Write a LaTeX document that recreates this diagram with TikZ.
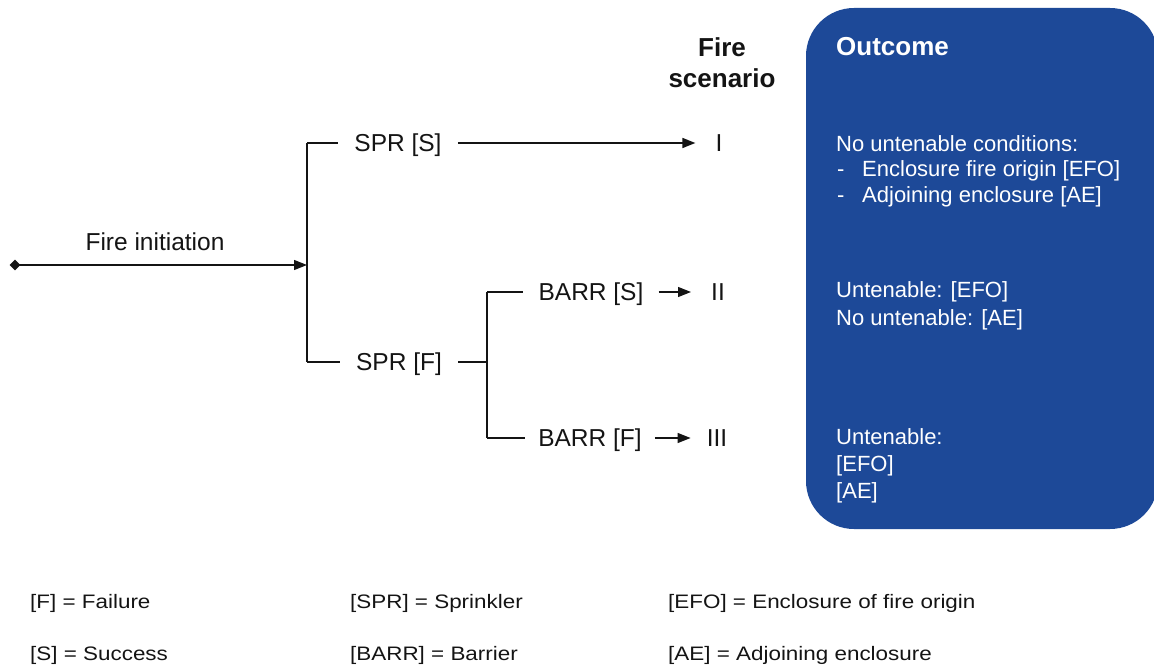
\documentclass[tikz,border=0pt]{standalone}
\usepackage{fontspec}
\setmainfont{Liberation Sans}
\newfontfamily\legendfont{Liberation Sans}[FakeStretch=1.15]
\usetikzlibrary{arrows.meta,shapes.geometric}
\definecolor{boxblue}{RGB}{29,73,152}
\definecolor{ink}{RGB}{20,20,20}
\begin{document}
\begin{tikzpicture}[x=1pt,y=-1pt,
  lbl/.style={inner ysep=0pt,inner xsep=16pt,text height=17.5pt,text depth=0pt,
    font=\fontsize{24.5}{28}\selectfont,text=ink},
  scen/.style={inner ysep=0pt,inner xsep=20pt,text height=17.5pt,text depth=0pt,
    font=\fontsize{24.5}{28}\selectfont,text=ink},
  wline/.style={draw=ink,line width=1.4pt},
  warrow/.style={draw=ink,line width=1.4pt,-{Triangle[length=13pt,width=10pt]}},
  outtxt/.style={anchor=west,inner sep=0pt,text height=15.8pt,text depth=0pt,
    font=\fontsize{22}{26}\selectfont,text=white},
  legtxt/.style={anchor=west,inner sep=0pt,text height=14pt,text depth=0pt,
    font=\legendfont\fontsize{19.5}{24}\selectfont,text=ink},
  headtxt/.style={inner sep=0pt,text height=18.6pt,text depth=0pt,
    font=\bfseries\fontsize{26}{30}\selectfont,text=ink}
]
\useasboundingbox (0,0) rectangle (1154,668);
\clip (0,0) rectangle (1154,668);

% outcome box
\fill[boxblue,rounded corners=48pt] (806,8) rectangle (1158,529);

% headers
\node[headtxt] (fire) at (722,47) {Fire};
\node[headtxt] (scen) at (722,78) {scenario};
\node[headtxt,text=white,anchor=west] (outc) at (836,46) {Outcome};

% tree
\node[diamond,fill=ink,inner sep=0pt,minimum size=11pt] (start) at (15,265) {};
\coordinate (split) at (307,265);
\coordinate (up) at (307,143);
\coordinate (dn) at (307,362);
\node[inner sep=0pt,text height=17.5pt,text depth=0pt,font=\fontsize{24.5}{28}\selectfont,text=ink] (finit) at (155,242) {Fire initiation};

\node[lbl] (sprS) at (398,143) {SPR [S]};
\node[lbl] (sprF) at (399,362) {SPR [F]};
\node[scen] (sI) at (719,143) {I};

\coordinate (split2) at (487,362);
\coordinate (up2) at (487,292);
\coordinate (dn2) at (487,438);
\node[lbl,inner xsep=15pt] (barrS) at (591,292) {BARR [S]};
\node[lbl,inner xsep=13pt] (barrF) at (590,438) {BARR [F]};
\node[scen] (sII) at (718,292) {II};
\node[scen,inner xsep=16pt] (sIII) at (717,438) {III};

\draw[warrow] (start.center) -- (split);
\draw[wline] (up) -- (dn);
\draw[wline] (up) -- (sprS.west);
\draw[wline] (dn) -- (sprF.west);
\draw[warrow] (sprS.east) -- (sI.west);
\draw[wline] (sprF.east) -- (split2);
\draw[wline] (up2) -- (dn2);
\draw[wline] (up2) -- (barrS.west);
\draw[wline] (dn2) -- (barrF.west);
\draw[warrow] (barrS.east) -- (sII.west);
\draw[warrow] (barrF.east) -- (sIII.west);

% outcome texts
\node[outtxt] (o1) at (836,144) {No untenable conditions:};
\node[outtxt] (o1a) at (837,169) {-};
\node[outtxt] (o1b) at (862,169) {Enclosure fire origin [EFO]};
\node[outtxt] (o1c) at (837,195) {-};
\node[outtxt] (o1d) at (862,195) {Adjoining enclosure [AE]};
\node[outtxt] (o2) at (836,290) {Untenable: [EFO]};
\node[outtxt] (o2b) at (836,318) {No untenable: [AE]};
\node[outtxt] (o3) at (836,437) {Untenable:};
\node[outtxt] (o3b) at (836,464) {[EFO]};
\node[outtxt] (o3c) at (836,491) {[AE]};

% legend
\node[legtxt] (l1) at (30,601) {[F] = Failure};
\node[legtxt] (l2) at (30,653) {[S] = Success};
\node[legtxt] (l3) at (350,601) {[SPR] = Sprinkler};
\node[legtxt] (l4) at (350,653) {[BARR] = Barrier};
\node[legtxt] (l5) at (668,601) {[EFO] = Enclosure of fire origin};
\node[legtxt] (l6) at (668,653) {[AE] = Adjoining enclosure};
\end{tikzpicture}
\end{document}
